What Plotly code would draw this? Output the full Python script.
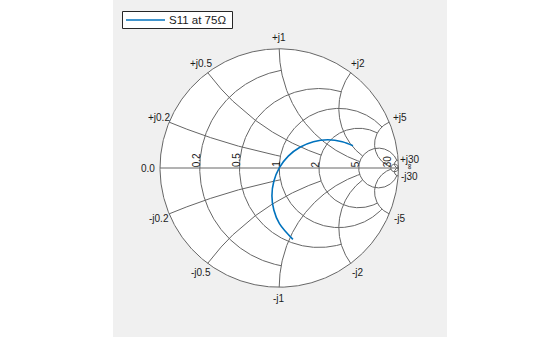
import numpy as np
import plotly.graph_objects as go

# ---- data ----
# Reflection coefficient S11 (normalised to 75 ohm), real and imaginary parts
s11_re = [0.619, 0.529, 0.408, 0.287, 0.174, 0.076, 0.002, -0.045, -0.061, -0.045, 0.002, 0.115]
s11_im = [0.187, 0.221, 0.237, 0.221, 0.174, 0.100, 0.003, -0.111, -0.232, -0.353, -0.467, -0.599]
series_name = "S11 at 75\u03a9"

# Smith chart grid: circle/arc values and the limit each one is drawn to
grid_values = [0.2, 0.5, 1, 2, 5, 30]
grid_limits = [1, 2, 5, 5, 30, np.inf]
real_labels = ["0.2", "0.5", "1", "2", "5", "30"]
pos_labels = ["+j0.2", "+j0.5", "+j1", "+j2", "+j5", "+j30"]
neg_labels = ["-j0.2", "-j0.5", "-j1", "-j2", "-j5", "-j30"]

# ---- geometry of the picture ----
W, H = 560, 337
CX, CY, R = 279.2, 168.0, 119.2     # pixel centre and radius of the chart
GRID = "#666666"
TXT = "#1a1a1a"
BLUE = "#0072BD"
FONT = "Arial, Liberation Sans, sans-serif"


def gamma(z):
    return (z - 1) / (z + 1)


def r_circle(r, lim):
    c = r / (1 + r)
    rho = 1 / (1 + r)
    if np.isinf(lim):
        a0 = 0.0
    else:
        g = gamma(r + 1j * lim) - c
        a0 = np.angle(g)
    a = np.linspace(a0, 2 * np.pi - a0, 500)
    return c + rho * np.cos(a), rho * np.sin(a)


def x_arc(x, lim):
    tmax = 0.99999 if np.isinf(lim) else lim / (1 + lim)
    t = np.linspace(0, tmax, 600)
    rr = t / (1 - t)
    g = gamma(rr + 1j * x)
    return g.real, g.imag


gx, gy = [], []
a = np.linspace(0, 2 * np.pi, 720)
gx += list(np.cos(a)) + [None]
gy += list(np.sin(a)) + [None]
gx += [-1, 1, None]
gy += [0, 0, None]
for v, lim in zip(grid_values, grid_limits):
    xs, ys = r_circle(v, lim)
    gx += list(xs) + [None]
    gy += list(ys) + [None]
    for s in (1, -1):
        xs, ys = x_arc(s * v, lim)
        gx += list(xs) + [None]
        gy += list(ys) + [None]

fig = go.Figure()
fig.add_trace(go.Scatter(x=gx, y=gy, mode="lines", line=dict(color=GRID, width=1),
                         hoverinfo="skip", showlegend=False))
fig.add_trace(go.Scatter(x=s11_re, y=s11_im, mode="lines", name=series_name,
                         showlegend=False,
                         line=dict(color=BLUE, width=1.6, shape="spline")))

ann = []
LR = 1.097
for v, pl, nl in zip(grid_values, pos_labels, neg_labels):
    th = np.pi - 2 * np.arctan(v)
    for lab, sgn in ((pl, 1), (nl, -1)):
        ann.append(dict(x=LR * np.cos(th), y=sgn * LR * np.sin(th), text=lab,
                        xanchor="center", yanchor="middle", showarrow=False,
                        font=dict(size=10, color=TXT, family=FONT)))
for v, lab in zip(grid_values, real_labels):
    ann.append(dict(x=(v - 1) / (v + 1), y=0, text=lab, textangle=-90,
                    xanchor="right", yanchor="bottom", showarrow=False,
                    xshift=2, yshift=1, borderpad=0, borderwidth=0,
                    font=dict(size=10, color=TXT, family=FONT)))
ann.append(dict(x=-LR, y=0, text="0.0", xanchor="center", yanchor="middle",
                showarrow=False, font=dict(size=10, color=TXT, family=FONT)))
ann.append(dict(x=LR, y=0.012, text="\u221e", textangle=-90, xanchor="center",
                yanchor="middle", showarrow=False,
                font=dict(size=8, color=TXT, family=FONT)))

# legend box (drawn in paper space to match the compact original legend)
LX0, LX1, LY0, LY1 = 122.5, 232.5, 11.5, 28.5
ann.append(dict(xref="paper", yref="paper", x=169 / W, y=1 - 20 / H, text=series_name,
                xanchor="left", yanchor="middle", showarrow=False,
                borderpad=0, borderwidth=0,
                font=dict(size=11.5, color=TXT, family=FONT)))

shapes = [
    dict(type="rect", xref="paper", yref="paper", x0=113 / W, x1=447 / W, y0=0, y1=1,
         fillcolor="#f0f0f0", line=dict(width=0), layer="below"),
    dict(type="circle", xref="x", yref="y", x0=-1, y0=-1, x1=1, y1=1,
         fillcolor="white", line=dict(width=0), layer="below"),
    dict(type="rect", xref="paper", yref="paper", x0=LX0 / W, x1=LX1 / W,
         y0=1 - LY1 / H, y1=1 - LY0 / H, fillcolor="white",
         line=dict(color="#262626", width=1), layer="above"),
    dict(type="line", xref="paper", yref="paper", x0=126 / W, x1=165 / W,
         y0=1 - 20 / H, y1=1 - 20 / H, line=dict(color=BLUE, width=1.6), layer="above"),
]

fig.update_layout(
    width=W, height=H, autosize=False,
    margin=dict(l=0, r=0, t=0, b=0),
    paper_bgcolor="white", plot_bgcolor="rgba(0,0,0,0)",
    xaxis=dict(visible=False, range=[-CX / R, (W - CX) / R], fixedrange=True),
    yaxis=dict(visible=False, range=[-(H - CY) / R, CY / R], fixedrange=True),
    shapes=shapes, annotations=ann,
    showlegend=False,
)

fig.write_html("out.html")
